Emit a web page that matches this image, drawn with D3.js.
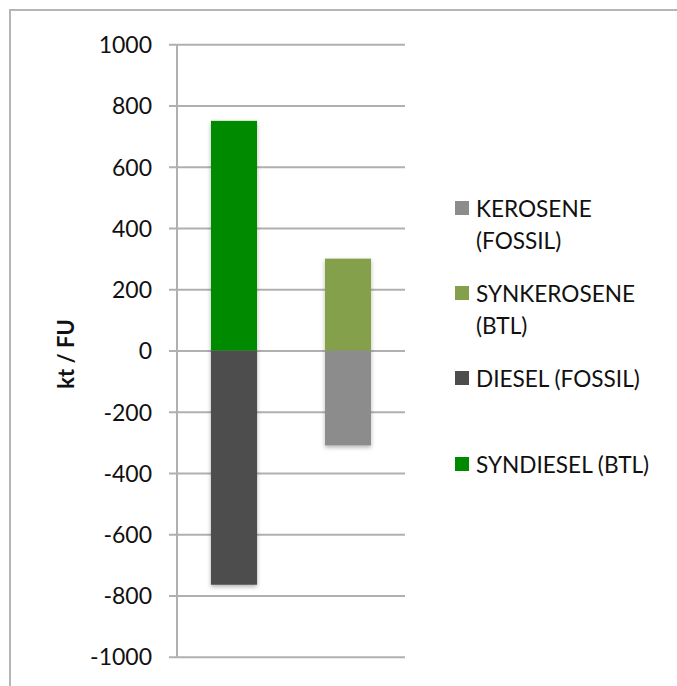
<!DOCTYPE html>
<html lang="en">
<head>
<meta charset="UTF-8">
<title>kt / FU</title>
<script src="https://d3js.org/d3.v7.min.js"></script>
<style>
html,body{margin:0;padding:0;background:#fff}
svg{display:block}
.tick-label{font-family:Lato,"Open Sans",sans-serif;font-size:23px;fill:#111}
.legend-text{font-family:Lato,"Open Sans",sans-serif;font-size:22.6px;fill:#111}
.y-title{font-family:Lato,"Open Sans",sans-serif;font-size:22px;font-weight:700;fill:#111}
</style>
</head>
<body>
<svg id="chart" width="677" height="686"></svg>
<script>
// ── Data ──
var categories = ['Diesel', 'Kerosene'];
var fossilValues = [-765, -310];
var btlValues = [750, 300];
var yTicks = [1000, 800, 600, 400, 200, 0, -200, -400, -600, -800, -1000];

var fossilColors = ['#4d4d4d', '#8c8c8c'];
var btlColors = ['#008a00', '#84a04b'];

var legendItems = [
  { lines: ['KEROSENE', '(FOSSIL)'], color: '#8c8c8c' },
  { lines: ['SYNKEROSENE', '(BTL)'], color: '#84a04b' },
  { lines: ['DIESEL (FOSSIL)'], color: '#4d4d4d' },
  { lines: ['SYNDIESEL (BTL)'], color: '#008a00' }
];

var svg = d3.select('#chart');

// frame (only top/left edges visible in the crop)
svg.append('rect')
  .attr('x', 10).attr('y', 10).attr('width', 700).attr('height', 700)
  .attr('fill', 'none').attr('stroke', '#b5b5b5').attr('stroke-width', 2);

var defs = svg.append('defs');
var f = defs.append('filter').attr('id', 'shadow')
  .attr('x', '-20%').attr('y', '-10%').attr('width', '140%').attr('height', '120%');
f.append('feDropShadow').attr('dx', 0).attr('dy', 2).attr('stdDeviation', 2)
  .attr('flood-color', '#000').attr('flood-opacity', 0.3);

var PLOT_L = 177, PLOT_R = 405;
var y = d3.scaleLinear().domain([-1000, 1000]).range([656.7, 44.3]);
var pad = 0.596;
var x = d3.scaleBand().domain(categories).range([PLOT_L, PLOT_R])
  .paddingInner(pad).paddingOuter(pad / 2);

// gridlines + tick labels (plain hyphen for negatives, like the original)
var yAxis = d3.axisLeft(y).tickValues(yTicks)
  .tickSize(-(PLOT_R - PLOT_L)).tickPadding(25)
  .tickFormat(function(d) { return String(d); });
var gAxis = svg.append('g').attr('transform', 'translate(' + PLOT_L + ',0)').call(yAxis);
gAxis.select('.domain').remove();
gAxis.selectAll('.tick line')
  .attr('x1', -8).attr('stroke', '#b0b0b0').attr('stroke-width', 2);
gAxis.selectAll('.tick text')
  .attr('class', 'tick-label').attr('font-family', null).attr('font-size', null)
  .attr('fill', null).attr('dy', '0.36em');

// vertical axis line
svg.append('line')
  .attr('x1', PLOT_L).attr('x2', PLOT_L)
  .attr('y1', y(1000)).attr('y2', y(-1000))
  .attr('stroke', '#b0b0b0').attr('stroke-width', 2);

// bars
var bars = svg.append('g').attr('filter', 'url(#shadow)');
categories.forEach(function(c, i) {
  bars.append('rect')
    .attr('x', x(c)).attr('width', x.bandwidth())
    .attr('y', y(0)).attr('height', y(fossilValues[i]) - y(0))
    .attr('fill', fossilColors[i]);
  bars.append('rect')
    .attr('x', x(c)).attr('width', x.bandwidth())
    .attr('y', y(btlValues[i])).attr('height', y(0) - y(btlValues[i]))
    .attr('fill', btlColors[i]);
});

// y title
svg.append('text').attr('class', 'y-title')
  .attr('transform', 'translate(74,354) rotate(-90)')
  .attr('text-anchor', 'middle')
  .text('kt / FU');

// legend
var legendTops = [201, 286, 371, 457];
var LINE_H = 32;
var lg = svg.append('g');
legendItems.forEach(function(item, i) {
  var top = legendTops[i];
  lg.append('rect').attr('x', 455).attr('y', top).attr('width', 14).attr('height', 14)
    .attr('fill', item.color);
  var t = lg.append('text').attr('class', 'legend-text').attr('x', 476).attr('y', top + 16);
  item.lines.forEach(function(line, j) {
    t.append('tspan').attr('x', 476).attr('dy', j === 0 ? 0 : LINE_H).text(line);
  });
});
</script>
</body>
</html>
